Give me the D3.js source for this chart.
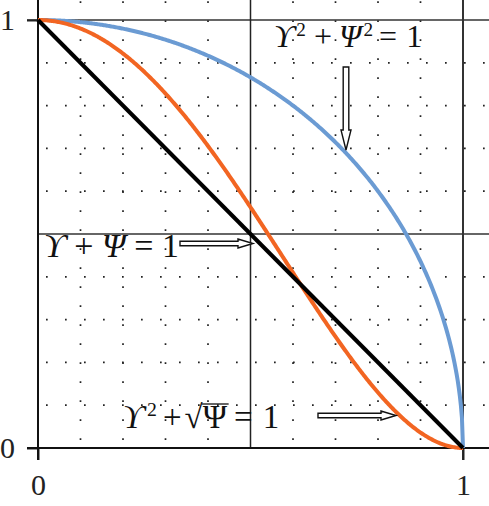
<!DOCTYPE html>
<html><head><meta charset="utf-8">
<script src="https://cdn.jsdelivr.net/npm/d3@7"></script>
<style>body{margin:0;background:#fff}svg{display:block}</style>
</head><body>
<svg id="c" width="489" height="506"></svg>
<script>
// data
const xTicks = [0, 1];
const yTicks = [0, 1];
const xTickLabels = ["0", "1"];
const yTickLabels = ["0", "1"];
const dotGrid = [0.1, 0.2, 0.3, 0.4, 0.6, 0.7, 0.8, 0.9];
const sampleX = d3.range(0, 1.0001, 0.0025);
const circleCurve = sampleX.map(x => [x, Math.sqrt(Math.max(0, 1 - x * x))]);   // Υ²+Ψ²=1
const lineCurve = [[0, 1], [1, 0]];                                              // Υ+Ψ=1
const sqrtCurve = sampleX.map(x => [x, Math.pow(1 - x * x, 2)]);                 // Υ²+√Ψ=1

const svg = d3.select("#c");
const x = d3.scaleLinear().domain([0, 1]).range([38, 463]);
const y = d3.scaleLinear().domain([0, 1]).range([448, 20]);

// dotted grid
const g = svg.append("g");
dotGrid.forEach(v => {
  g.append("line").attr("x1", x(0)).attr("x2", 489).attr("y1", y(v)).attr("y2", y(v))
    .attr("stroke", "#222").attr("stroke-width", 1.7).attr("stroke-dasharray", "1.7,17.3")
    .attr("stroke-dashoffset", -8);
  g.append("line").attr("y1", y(0)).attr("y2", 0).attr("x1", x(v)).attr("x2", x(v))
    .attr("stroke", "#222").attr("stroke-width", 1.7).attr("stroke-dasharray", "1.7,17.3")
    .attr("stroke-dashoffset", -8);
});

// solid grid
svg.append("line").attr("x1", x(0)).attr("x2", 489).attr("y1", y(0.5)).attr("y2", y(0.5)).attr("stroke", "#333").attr("stroke-width", 1.5);
svg.append("line").attr("x1", 27).attr("x2", 489).attr("y1", y(1)).attr("y2", y(1)).attr("stroke", "#333").attr("stroke-width", 1.5);
svg.append("line").attr("x1", x(0.5)).attr("x2", x(0.5)).attr("y1", 0).attr("y2", y(0)).attr("stroke", "#222").attr("stroke-width", 1.5);
svg.append("line").attr("x1", x(1)).attr("x2", x(1)).attr("y1", 0).attr("y2", 460).attr("stroke", "#333").attr("stroke-width", 2);

// axes
const xAxis = svg.append("g").attr("transform", `translate(0,${y(0)})`)
  .call(d3.axisBottom(x).tickValues(xTicks).tickFormat((d, i) => xTickLabels[i]).tickSize(12).tickPadding(14));
const yAxis = svg.append("g").attr("transform", `translate(${x(0)},0)`)
  .call(d3.axisLeft(y).tickValues(yTicks).tickFormat((d, i) => yTickLabels[i]).tickSize(11).tickPadding(12));
[xAxis, yAxis].forEach(a => {
  a.select(".domain").remove();
  a.selectAll(".tick line").attr("stroke", "#222").attr("stroke-width", 2);
  a.selectAll("text").attr("font-family", "Liberation Serif").attr("font-size", 30).attr("fill", "#222");
});
svg.append("line").attr("x1", 27).attr("x2", 489).attr("y1", y(0)).attr("y2", y(0)).attr("stroke", "#111").attr("stroke-width", 2);
svg.append("line").attr("x1", x(0)).attr("x2", x(0)).attr("y1", 0).attr("y2", 460).attr("stroke", "#111").attr("stroke-width", 2);

// curves
const line = d3.line().x(d => x(d[0])).y(d => y(d[1]));
svg.append("path").datum(circleCurve).attr("d", line).attr("fill", "none").attr("stroke", "#6b9bd3").attr("stroke-width", 4);
svg.append("path").datum(sqrtCurve).attr("d", line).attr("fill", "none").attr("stroke", "#f26522").attr("stroke-width", 4);
svg.append("path").datum(lineCurve).attr("d", line).attr("fill", "none").attr("stroke", "#000").attr("stroke-width", 4);

// hollow arrows
function hArrow(x0, x1, cy) {
  const sw = 2.2, hw = 4.5, hl = 15;
  const p = [[x0, cy - sw], [x1 - hl, cy - sw], [x1 - hl, cy - hw], [x1, cy], [x1 - hl, cy + hw], [x1 - hl, cy + sw], [x0, cy + sw]];
  svg.append("path").attr("d", "M" + p.join("L") + "Z").attr("fill", "#fff").attr("stroke", "#111").attr("stroke-width", 1.4);
}
function vArrow(cx, y0, y1) {
  const sw = 2.8, hw = 5, hl = 20;
  const p = [[cx - sw, y0], [cx - sw, y1 - hl], [cx - hw, y1 - hl], [cx, y1], [cx + hw, y1 - hl], [cx + sw, y1 - hl], [cx + sw, y0]];
  svg.append("path").attr("d", "M" + p.join("L") + "Z").attr("fill", "#fff").attr("stroke", "#111").attr("stroke-width", 1.4);
}
vArrow(346, 67, 150);
hArrow(180, 253, 243.5);
hArrow(318, 396, 415.5);

// equation labels
function eq(xp, yp, parts, fs) {
  const t = svg.append("text").attr("x", xp).attr("y", yp).attr("font-family", "Liberation Serif").attr("font-size", fs).attr("fill", "#111");
  parts.forEach(p => {
    const s = t.append("tspan").text(p.t);
    if (p.i) s.attr("font-style", "italic");
    if (p.sup) s.attr("font-size", fs * 0.6).attr("dy", -fs * 0.35);
    if (p.down) s.attr("dy", fs * 0.35);
    if (p.dx) s.attr("dx", p.dx);
  });
  return t;
}
eq(274, 47, [{t: "ϒ", i: 1}, {t: "2", sup: 1, dx: 2}, {t: "+", down: 1, dx: 8}, {t: "Ψ", i: 1, dx: 7}, {t: "2", sup: 1, dx: 2}, {t: "=", down: 1, dx: 6}, {t: "1", dx: 9}], 32);
eq(44, 257, [{t: "ϒ", i: 1}, {t: " + "}, {t: "Ψ", i: 1}, {t: " = 1"}], 34);
const t3 = eq(123, 428, [{t: "ϒ", i: 1}, {t: "2", sup: 1, dx: 3}, {t: "+", down: 1, dx: 6}, {t: "√", dx: 3}, {t: "Ψ"}, {t: "=", dx: 7}, {t: "1", dx: 10}], 33);
// overline of the square root
const psiNode = t3.selectAll("tspan").nodes()[4];
const bb = psiNode.getBBox();
svg.append("line").attr("x1", bb.x - 1).attr("x2", bb.x + bb.width + 1).attr("y1", bb.y + 5).attr("y2", bb.y + 5).attr("stroke", "#111").attr("stroke-width", 1.3);
</script>
</body></html>
